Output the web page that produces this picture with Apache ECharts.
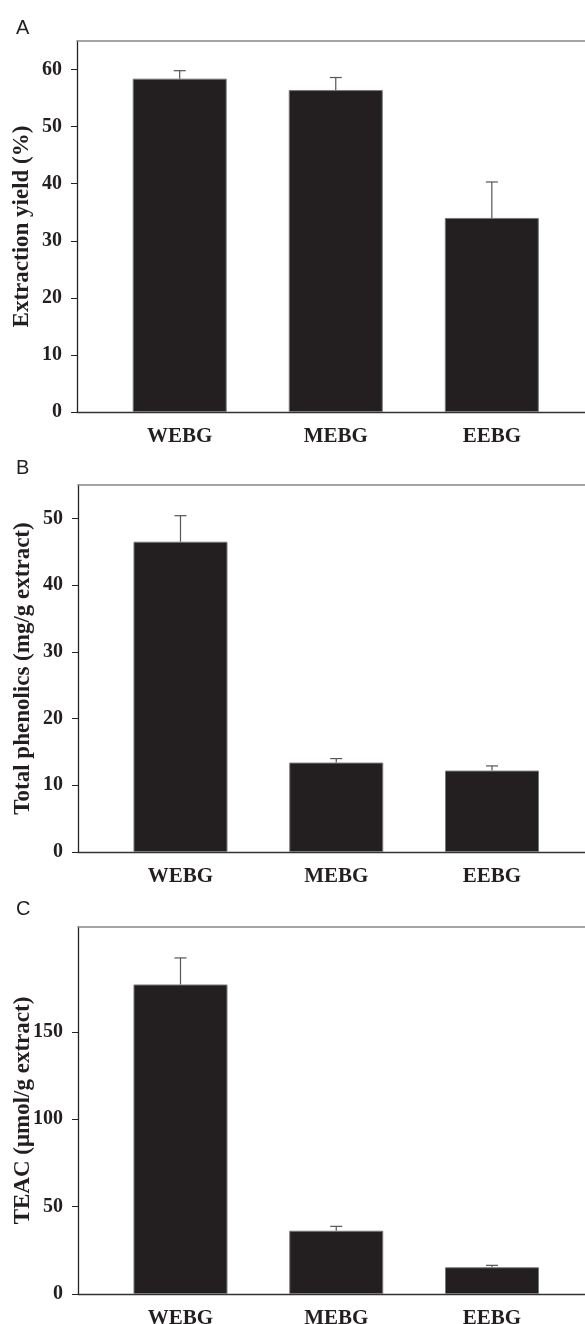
<!DOCTYPE html>
<html>
<head>
<meta charset="utf-8">
<script src="https://cdn.jsdelivr.net/npm/echarts@6/dist/echarts.min.js"></script>
<style>
  html, body { margin: 0; padding: 0; background: #fff; }
  #main { width: 585px; height: 1324px; }
</style>
</head>
<body>
<div id="main"></div>
<script>
// categories (extracts)
var categories = ['WEBG', 'MEBG', 'EEBG'];
// A: extraction yield (%), mean and SD
var yieldMean = [58.4, 56.4, 34.0];
var yieldErr = [1.4, 2.2, 6.3];
// B: total phenolics (mg/g extract)
var phenolMean = [46.5, 13.4, 12.2];
var phenolErr = [3.9, 0.6, 0.7];
// C: TEAC (umol/g extract)
var teacMean = [177.1, 36.2, 15.3];
var teacErr = [15.2, 2.5, 1.1];
// y tick labels
var ticksA = [0, 10, 20, 30, 40, 50, 60];
var ticksB = [0, 10, 20, 30, 40, 50];
var ticksC = [0, 50, 100, 150];

var serif = 'Liberation Serif';
var barColor = '#231f20';

// grid boxes: panel A, B, C
var grids = [
    { left: 77, top: 41, right: 0, height: 371, outerBoundsMode: 'none', containLabel: false },
    { left: 78, top: 485, right: 0, height: 367, outerBoundsMode: 'none', containLabel: false },
    { left: 78, top: 927, right: 0, height: 367, outerBoundsMode: 'none', containLabel: false }
];

function bottomAxis(i) {
    return {
        type: 'value', gridIndex: i, min: 0.342, max: 3.597,
        position: 'bottom',
        splitLine: { show: false },
        axisTick: { show: false },
        axisLine: { lineStyle: { color: '#333', width: 1.3 } },
        axisLabel: {
            customValues: [1, 2, 3],
            formatter: function (v) { return categories[Math.round(v) - 1]; },
            fontFamily: serif, fontWeight: 'bold', fontSize: 21,
            color: '#231f20', margin: 14
        }
    };
}
function topAxis(i) {
    return {
        type: 'value', gridIndex: i, min: 0.342, max: 3.597,
        position: 'top',
        splitLine: { show: false },
        axisTick: { show: false },
        axisLabel: { show: false },
        axisLine: { lineStyle: { color: '#888', width: 1.5 } }
    };
}
function leftAxis(i, max, ticks, name) {
    return {
        type: 'value', gridIndex: i, min: 0, max: max,
        name: name, nameLocation: 'middle', nameGap: 43, nameMoveOverlap: false,
        nameTextStyle: { fontFamily: serif, fontWeight: 'bold', fontSize: 23, color: '#231f20' },
        splitLine: { show: false },
        axisLine: { show: true, lineStyle: { color: '#222', width: 1.3 } },
        axisTick: { show: true, length: 6, customValues: ticks, lineStyle: { color: '#222' } },
        axisLabel: {
            customValues: ticks,
            fontFamily: serif, fontWeight: 'bold', fontSize: 20,
            color: '#231f20', margin: 15
        }
    };
}

function barSeries(i, mean) {
    return {
        type: 'bar', xAxisIndex: i * 2, yAxisIndex: i,
        barWidth: 94,
        itemStyle: { color: barColor, borderColor: '#777', borderWidth: 1 },
        data: mean.map(function (v, k) { return [k + 1, v]; }),
        z: 2
    };
}
function errSeries(i, mean, err) {
    return {
        type: 'custom', xAxisIndex: i * 2, yAxisIndex: i,
        data: mean.map(function (v, k) { return [k + 1, v, v + err[k]]; }),
        renderItem: function (params, api) {
            var base = api.coord([api.value(0), api.value(1)]);
            var top = api.coord([api.value(0), api.value(2)]);
            var st = { stroke: '#555', lineWidth: 1.2 };
            return {
                type: 'group',
                children: [
                    { type: 'line', shape: { x1: base[0], y1: base[1], x2: top[0], y2: top[1] }, style: st },
                    { type: 'line', shape: { x1: top[0] - 6, y1: top[1], x2: top[0] + 6, y2: top[1] }, style: st }
                ]
            };
        },
        z: 3
    };
}

var labelStyle = { fontFamily: 'Liberation Sans', fontWeight: 'normal', fontSize: 20, color: '#231f20' };

var option = {
    animation: false,
    backgroundColor: '#fff',
    title: [
        { text: 'A', left: 11, top: 13, textStyle: labelStyle },
        { text: 'B', left: 11, top: 453, textStyle: labelStyle },
        { text: 'C', left: 11, top: 894, textStyle: labelStyle }
    ],
    grid: grids,
    xAxis: [bottomAxis(0), topAxis(0), bottomAxis(1), topAxis(1), bottomAxis(2), topAxis(2)],
    yAxis: [
        leftAxis(0, 65, ticksA, 'Extraction yield (%)'),
        leftAxis(1, 55, ticksB, 'Total phenolics (mg/g extract)'),
        leftAxis(2, 210, ticksC, 'TEAC (\u03bcmol/g extract)')
    ],
    series: [
        barSeries(0, yieldMean), errSeries(0, yieldMean, yieldErr),
        barSeries(1, phenolMean), errSeries(1, phenolMean, phenolErr),
        barSeries(2, teacMean), errSeries(2, teacMean, teacErr)
    ]
};

var chart = echarts.init(document.getElementById('main'));
chart.setOption(option);
</script>
</body>
</html>
